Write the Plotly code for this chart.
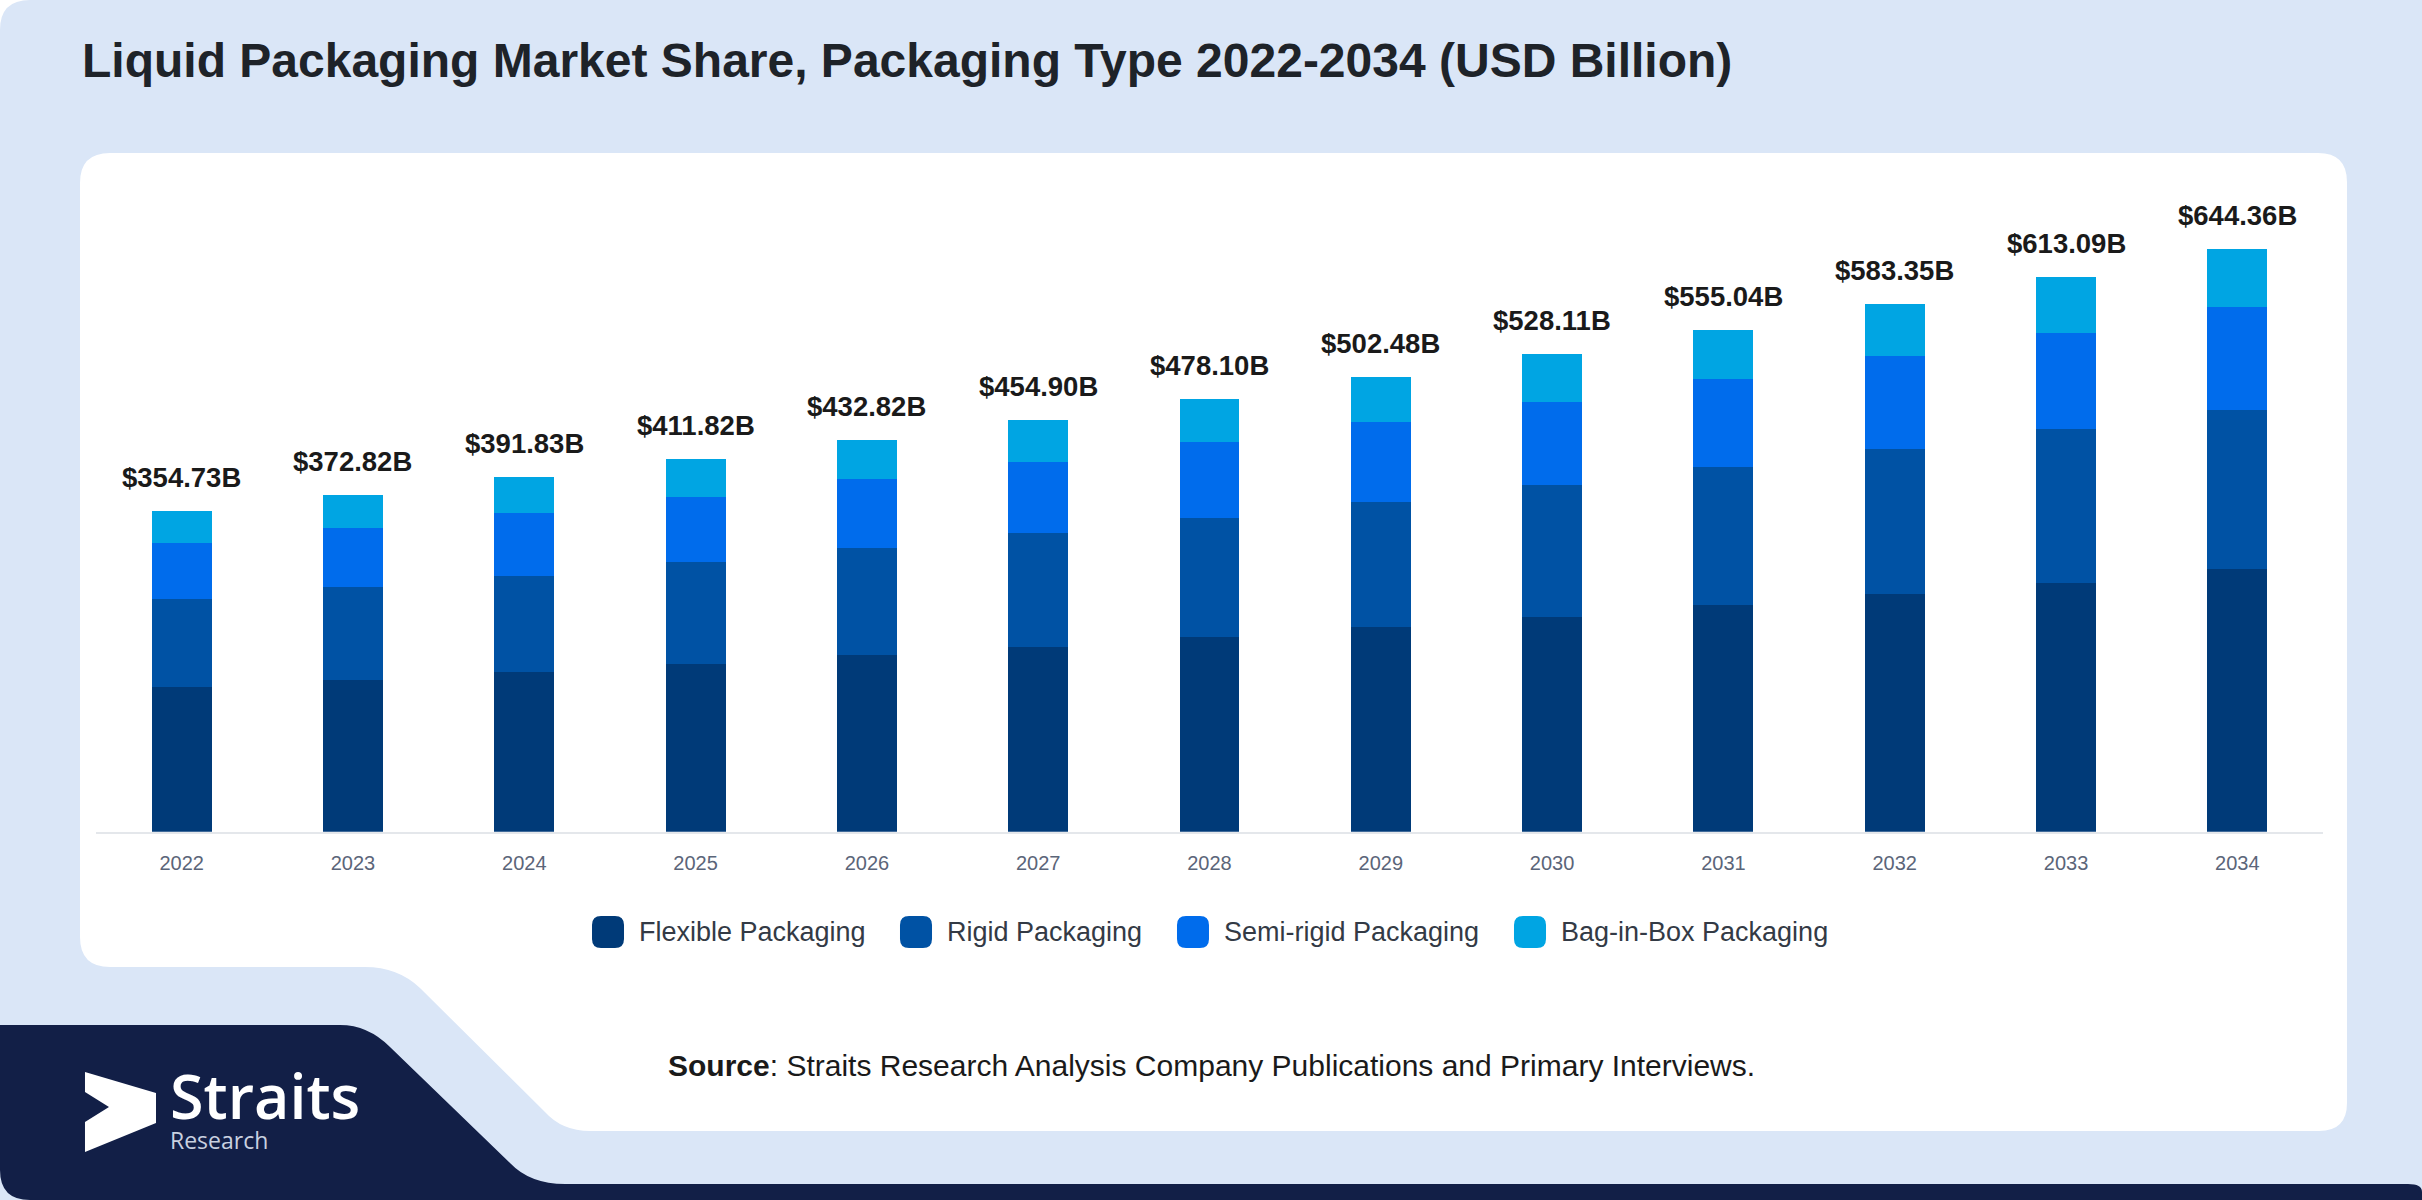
# Liquid packaging market by packaging type, stacked bars 2022-2034
import plotly.graph_objects as go

W, H = 2422, 1200

# data (USD billion)
years = ["2022", "2023", "2024", "2025", "2026", "2027", "2028",
         "2029", "2030", "2031", "2032", "2033", "2034"]
flexible = [159.6, 168.0, 176.2, 185.5, 195.6, 204.8, 215.1,
            226.1, 237.6, 250.6, 262.6, 275.2, 290.3]
rigid = [97.8, 102.2, 107.1, 112.7, 118.6, 125.2, 132.1,
         138.2, 145.4, 152.2, 160.9, 169.7, 176.3]
semi_rigid = [62.4, 65.1, 68.8, 72.3, 75.6, 79.3, 83.8,
              88.5, 92.6, 97.9, 102.2, 106.5, 113.6]
bag_in_box = [34.9, 37.5, 39.7, 41.3, 43.0, 45.6, 47.1,
              49.7, 52.5, 54.3, 57.7, 61.7, 64.2]
totals = [354.73, 372.82, 391.83, 411.82, 432.82, 454.90, 478.10,
          502.48, 528.11, 555.04, 583.35, 613.09, 644.36]

series_names = ["Flexible Packaging", "Rigid Packaging",
                "Semi-rigid Packaging", "Bag-in-Box Packaging"]
series_values = [flexible, rigid, semi_rigid, bag_in_box]
colors = ["#003A78", "#0052A4", "#006CEC", "#00A5E3"]

FONT = "Arial, Liberation Sans, sans-serif"


def pt(x, y):
    # pixel position -> paper coordinates for shape paths
    return f"{x / W:.5f},{1 - y / H:.5f}"


def path(*cmds):
    out = []
    for c in cmds:
        if isinstance(c, str):
            out.append(c)
        else:
            out.append(pt(*c))
    return " ".join(out)


fig = go.Figure()

for name, vals, col in zip(series_names, series_values, colors):
    fig.add_trace(go.Bar(
        x=years, y=vals, name=name,
        marker=dict(color=col, line=dict(width=0)),
        width=0.35, showlegend=False,
        hovertemplate="%{x}: $%{y:.2f}B<extra>" + name + "</extra>",
    ))

# total labels above each stack (x given as category index)
annotations = []
for i, tot in enumerate(totals):
    annotations.append(dict(
        x=i, y=tot, xref="x", yref="y", text=f"${tot:.2f}B",
        showarrow=False, yanchor="bottom", yshift=16,
        font=dict(family=FONT, size=27.5, color="#1A1A1A", weight="bold"),
    ))

# background panels
bg_light = path("M", (0, 30), "Q", (0, 0), (30, 0), "L", (W, 0), "L", (W, H),
                "L", (0, H), "Z")
navy = path("M", (0, 1025), "L", (340, 1025), "Q", (368, 1025), (390, 1047),
            "L", (510, 1163), "Q", (530, 1184), (565, 1184),
            "L", (2408, 1184), "Q", (W, 1184), (W, 1192), "L", (W, H),
            "L", (30, H), "Q", (0, H), (0, 1170), "Z")
panel = path("M", (80, 183), "Q", (80, 153), (110, 153), "L", (2318, 153),
             "Q", (2347, 153), (2347, 182), "L", (2347, 1103),
             "Q", (2347, 1131), (2319, 1131), "L", (590, 1131),
             "Q", (562, 1131), (545, 1112), "L", (420, 988),
             "Q", (398, 967), (365, 967), "L", (110, 967),
             "Q", (80, 967), (80, 937), "Z")
arrow = path("M", (85, 1072), "L", (156, 1093), "L", (156, 1123), "L", (85, 1152),
             "L", (85, 1122), "L", (109, 1107), "L", (85, 1092), "Z")

shapes = [
    dict(type="path", path=bg_light, xref="paper", yref="paper",
         fillcolor="#DAE6F7", line=dict(width=0), layer="below"),
    dict(type="path", path=navy, xref="paper", yref="paper",
         fillcolor="#121F47", line=dict(width=0), layer="below"),
    dict(type="path", path=panel, xref="paper", yref="paper",
         fillcolor="#FFFFFF", line=dict(width=0), layer="below"),
    dict(type="path", path=arrow, xref="paper", yref="paper",
         fillcolor="#FFFFFF", line=dict(width=0), layer="below"),
]

# legend drawn by hand so the swatches can match the big rounded squares
legend_left = [592, 900, 1177, 1514]
ly = 932
for name, col, lx in zip(series_names, colors, legend_left):
    sw = path("M", (lx + 9, ly - 16), "L", (lx + 23, ly - 16),
              "Q", (lx + 32, ly - 16), (lx + 32, ly - 7), "L", (lx + 32, ly + 7),
              "Q", (lx + 32, ly + 16), (lx + 23, ly + 16), "L", (lx + 9, ly + 16),
              "Q", (lx, ly + 16), (lx, ly + 7), "L", (lx, ly - 7),
              "Q", (lx, ly - 16), (lx + 9, ly - 16), "Z")
    shapes.append(dict(type="path", path=sw, xref="paper", yref="paper",
                       fillcolor=col, line=dict(width=0)))
    annotations.append(dict(
        x=(lx + 45) / W, y=1 - ly / H, xref="paper", yref="paper",
        xanchor="left", yanchor="middle", text=name, showarrow=False,
        font=dict(family=FONT, size=27, color="#333A45"),
    ))

annotations += [
    dict(x=80 / W, y=1 - 60 / H, xref="paper", yref="paper",
         xanchor="left", yanchor="middle", showarrow=False,
         text="Liquid Packaging Market Share, Packaging Type 2022-2034 (USD Billion)",
         font=dict(family=FONT, size=48, color="#1E2329", weight="bold")),
    dict(x=0.5, y=1 - 1065 / H, xref="paper", yref="paper",
         xanchor="center", yanchor="middle", showarrow=False,
         text="<b>Source</b>: Straits Research Analysis Company Publications and Primary Interviews.",
         font=dict(family=FONT, size=30, color="#1A1A1A")),
    # logo wordmark as one two-line text
    dict(x=168 / W, y=1 - 1105 / H, xref="paper", yref="paper",
         xanchor="left", yanchor="middle", align="left", showarrow=False,
         text=("<span style='font-size:61px;font-weight:600;color:#FFFFFF'>Straits</span>"
               "<br>Research"),
         font=dict(family="Open Sans, sans-serif", size=23, color="#C9D1E0")),
]

fig.update_layout(
    autosize=True,
    margin=dict(l=0, r=0, t=0, b=0),
    barmode="stack",
    paper_bgcolor="#FFFFFF",
    plot_bgcolor="rgba(0,0,0,0)",
    showlegend=False,
    shapes=shapes,
    annotations=annotations,
    xaxis=dict(
        domain=[96 / W, 2323 / W], type="category", range=[-0.5, 12.5],
        showline=True, linecolor="#E4E7EB", linewidth=2,
        showgrid=False, ticks="", ticklabelstandoff=12,
        tickfont=dict(family=FONT, size=20, color="#5B6579"),
    ),
    yaxis=dict(
        domain=[1 - 831.7 / H, 1 - 198.7 / H], range=[0, 700],
        visible=False, showgrid=False, zeroline=False,
    ),
)

fig.write_html(
    "out.html",
    config={"displayModeBar": False},
    default_width="100vw",
    default_height="100vh",
    post_script=(
        "document.body.style.margin='0';"
        "document.documentElement.style.overflow='hidden';"
        "Plotly.Plots.resize(document.getElementsByClassName('plotly-graph-div')[0]);"
    ),
)
